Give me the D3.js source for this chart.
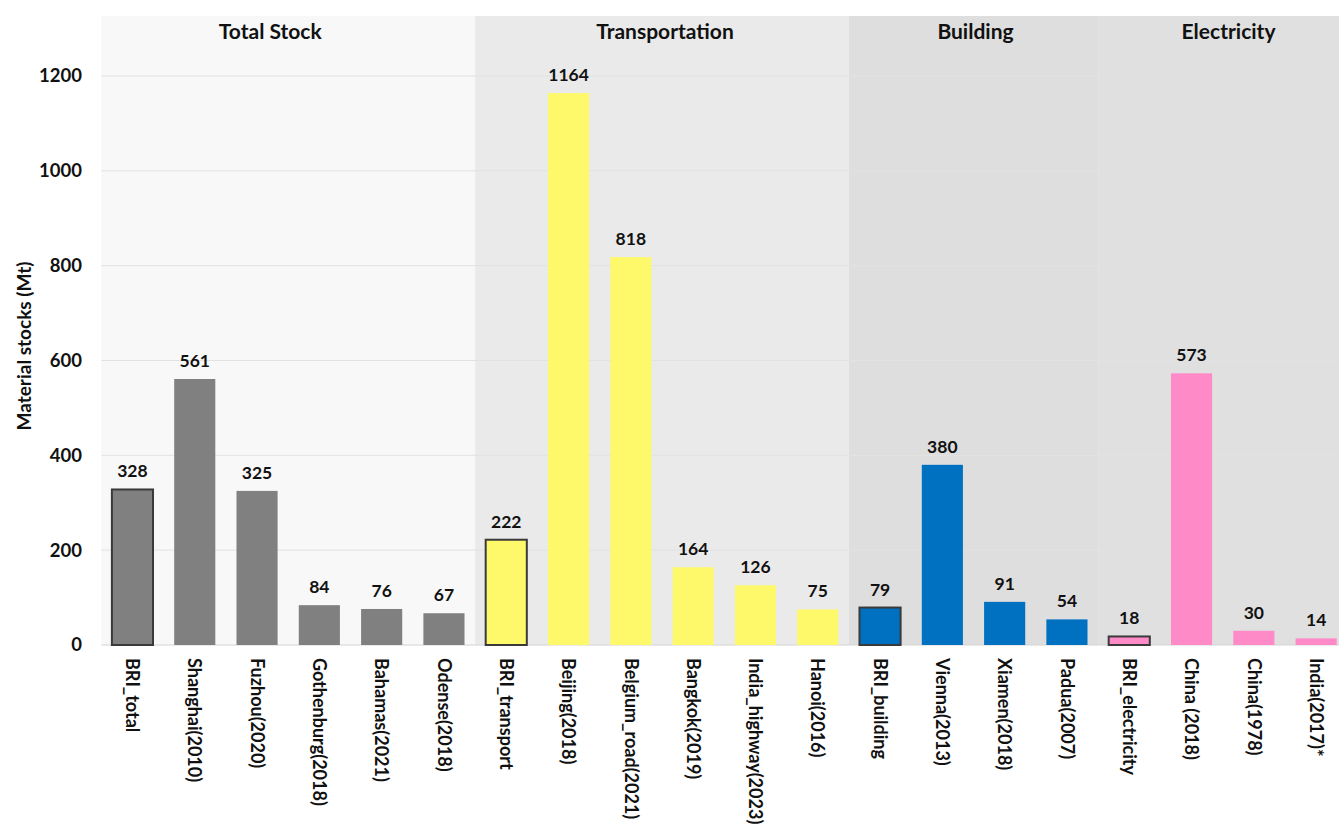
<!DOCTYPE html>
<html><head><meta charset="utf-8">
<script src="https://cdn.jsdelivr.net/npm/d3@7"></script>
<style>
html,body{margin:0;padding:0;background:#fff;}
svg{display:block;font-family:Lato,"Open Sans",sans-serif;}
</style></head>
<body><svg id="chart" width="1339" height="828"></svg>
<script>
const categories = ["BRI_total","Shanghai(2010)","Fuzhou(2020)","Gothenburg(2018)","Bahamas(2021)","Odense(2018)",
  "BRI_transport","Beijing(2018)","Belgium_road(2021)","Bangkok(2019)","India_highway(2023)","Hanoi(2016)",
  "BRI_building","Vienna(2013)","Xiamen(2018)","Padua(2007)",
  "BRI_electricity","China (2018)","China(1978)","India(2017)*"];
const values = [328,561,325,84,76,67, 222,1164,818,164,126,75, 79,380,91,54, 18,573,30,14];
const groupOf = [0,0,0,0,0,0, 1,1,1,1,1,1, 2,2,2,2, 3,3,3,3];
const groups = ["Total Stock","Transportation","Building","Electricity"];
const outlined = ["BRI_total","BRI_transport","BRI_building","BRI_electricity"];
const yTicks = [0,200,400,600,800,1000,1200];

const barColors = ["#808080","#fdf96a","#0070c0","#ff8ac8"];
const panelColors = ["#f8f8f8","#eaeaea","#dedede","#e0e0e0"];
const headerOffset = [-18,3,2,10];

const svg = d3.select("#chart");
const x0 = 101.3, step = 62.3;
const x = d3.scaleBand().domain(categories).range([x0, x0 + step*categories.length]).paddingInner(0.34).paddingOuter(0.17);
const y = d3.scaleLinear().domain([0,1200]).range([645,76]);
const topY = 16;

// panels
groups.forEach((g,gi)=>{
  const idx = categories.filter((c,i)=>groupOf[i]===gi);
  const first = categories.indexOf(idx[0]), last = categories.indexOf(idx[idx.length-1]);
  const left = x0 + first*step, right = x0 + (last+1)*step;
  svg.append("rect").attr("x",left).attr("y",topY).attr("width",right-left).attr("height",y(0)-topY).attr("fill",panelColors[gi]);
  svg.append("text").attr("x",(left+Math.min(right,1339))/2 + headerOffset[gi]).attr("y",39)
    .attr("text-anchor","middle").attr("font-weight","bold").attr("font-size",21).attr("fill","#111").text(g);
});

// gridlines
svg.append("g").selectAll("line").data(yTicks).join("line")
  .attr("x1",x0).attr("x2",1339).attr("y1",d=>y(d)).attr("y2",d=>y(d))
  .attr("stroke",d=>d===0?"#d4d4d4":"#e2e2e2").attr("stroke-width",1);

// y axis
const yAxis = d3.axisLeft(y).tickValues(yTicks).tickSize(0).tickPadding(0).tickFormat(d3.format("d"));
const ya = svg.append("g").attr("transform","translate(82,0)").call(yAxis);
ya.select(".domain").remove();
ya.selectAll("text").attr("font-family","Lato,sans-serif").attr("font-size",18.5).attr("font-weight","bold").attr("fill","#111");

svg.append("text").attr("transform","translate(31,346) rotate(-90)").attr("text-anchor","middle")
  .attr("font-weight","bold").attr("font-size",19).attr("fill","#111").text("Material stocks (Mt)");

// bars
svg.append("g").selectAll("rect").data(categories).join("rect")
  .attr("x",d=>x(d)).attr("width",x.bandwidth())
  .attr("y",(d,i)=>y(values[i])).attr("height",(d,i)=>y(0)-y(values[i]))
  .attr("fill",(d,i)=>barColors[groupOf[i]])
  .attr("stroke",d=>outlined.includes(d)?"#3a3a3a":"none")
  .attr("stroke-width",2);

// value labels
svg.append("g").selectAll("text").data(categories).join("text")
  .attr("x",d=>x(d)+x.bandwidth()/2).attr("y",(d,i)=>y(values[i])-12)
  .attr("text-anchor","middle").attr("font-weight","bold").attr("font-size",17.5).attr("fill","#111")
  .text((d,i)=>values[i]);

// x axis labels
const xAxis = d3.axisBottom(x).tickSize(0).tickPadding(0);
const xa = svg.append("g").attr("transform","translate(0,645)").call(xAxis);
xa.select(".domain").remove();
xa.selectAll("text").attr("font-family","Lato,sans-serif").attr("font-size",18).attr("font-weight","bold").attr("fill","#111")
  .attr("transform","translate(0,13) rotate(90)").attr("text-anchor","start").attr("dy","0.35em").attr("y",0).attr("x",0);
</script></body></html>
